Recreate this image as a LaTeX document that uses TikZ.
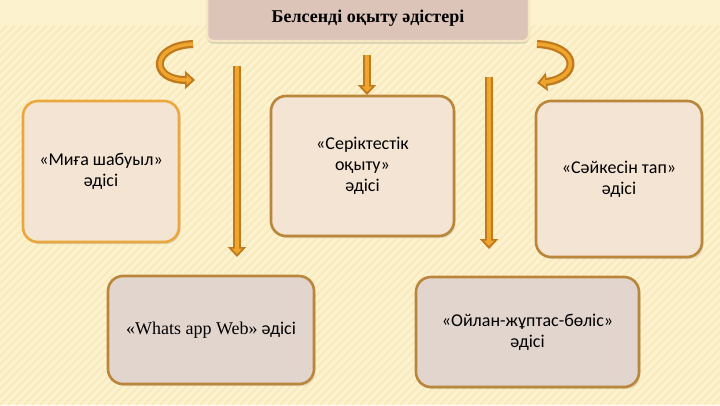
\documentclass[tikz,border=0pt]{standalone}
\usepackage{fontspec}
\setmainfont{Liberation Serif}
\newfontfamily\boxfont{Carlito}
\usepackage{xcolor}
\usepackage{tikz}
\usetikzlibrary{positioning,arrows.meta,shadows}

\definecolor{bgcream}{RGB}{253,242,206}
\definecolor{bgstripe}{RGB}{249,234,190}
\definecolor{titlefill}{RGB}{220,196,184}
\definecolor{titleedge}{RGB}{247,230,196}
\definecolor{lightfill}{RGB}{244,228,211}
\definecolor{greyfill}{RGB}{226,213,206}
\definecolor{orangeedge}{RGB}{234,167,60}
\definecolor{brownedge}{RGB}{185,134,58}
\definecolor{arrowout}{RGB}{192,122,30}
\definecolor{arrowin}{RGB}{240,166,45}

\begin{document}
\begin{tikzpicture}[
		x=1pt, y=-1pt,
		methodnode/.style={rectangle, rounded corners=15pt, line width=2.6pt, draw=brownedge, fill=lightfill,
			align=center, font=\boxfont\fontsize{18}{21}\selectfont, text=black,
			drop shadow={opacity=0.25, shadow xshift=1.5pt, shadow yshift=-2pt}},
		titlenode/.style={rectangle, rounded corners=6pt, line width=2.5pt, draw=titleedge, fill=titlefill,
			font=\bfseries\fontsize{18}{20}\selectfont, text=black,
			drop shadow={opacity=0.35, shadow xshift=0pt, shadow yshift=-2.5pt}},
		outerarrow/.style={draw=arrowout, line width=8pt, -{Triangle[width=18pt,length=10pt]}},
		innerarrow/.style={draw=arrowin, line width=3.5pt, shorten >=3pt, -{Triangle[width=10pt,length=5.5pt]}},
	]

		% background
		\fill[bgcream] (0,0) rectangle (720,405);
		\begin{scope}
			\clip (0,25) rectangle (720,405);
			\foreach \s in {0,8,...,1150}
				\draw[bgstripe, line width=2pt] (\s-400,405) -- (\s,0);
		\end{scope}
		\useasboundingbox (0,0) rectangle (720,405);

		% nodes
		\node[titlenode, minimum width=322pt, minimum height=46pt] (title) at (368,18) {Белсенді оқыту әдістері};
		\node[methodnode, draw=orangeedge, minimum width=156pt, minimum height=141pt] (brain) at (101,171.5) {«Миға шабуыл»\\әдісі};
		\node[methodnode, minimum width=183pt, minimum height=140pt] (partner) at (362.5,166) {«Серіктестік\\оқыту»\\ әдісі};
		\node[methodnode, minimum width=166pt, minimum height=156pt] (match) at (619,179) {«Сәйкесін тап»\\әдісі};
		\node[methodnode, fill=greyfill, minimum width=206pt, minimum height=108pt] (web) at (211,330) {{\rmfamily«Whats app Web»} әдісі};
		\node[methodnode, fill=greyfill, minimum width=223pt, minimum height=110pt] (think) at (527.5,332) {«Ойлан-жұптас-бөліс»\\әдісі};

		% arrow ends
		\coordinate (lefttop) at (237,66);
		\coordinate (righttop) at (489,77);
		\coordinate (midtop) at (367,55);
		\coordinate (midtip) at (367,95);
		\coordinate (lefttip) at (237,257);
		\coordinate (righttip) at (489,249);
		\coordinate (curlA) at (193,44);
		\coordinate (curlB) at (195,80);
		\coordinate (curlC) at (537,44);
		\coordinate (curlD) at (537,83);

		% arrows
		\foreach \st in {outerarrow, innerarrow} {
			\draw[\st] (lefttop) -- (lefttip);
			\draw[\st] (righttop) -- (righttip);
			\draw[\st] (midtop) -- (midtip);
			\draw[\st] (curlA) .. controls (150,46) and (150,80) .. (curlB);
			\draw[\st] (curlC) .. controls (580,46) and (580,78) .. (curlD);
		}
	\end{tikzpicture}
\end{document}
